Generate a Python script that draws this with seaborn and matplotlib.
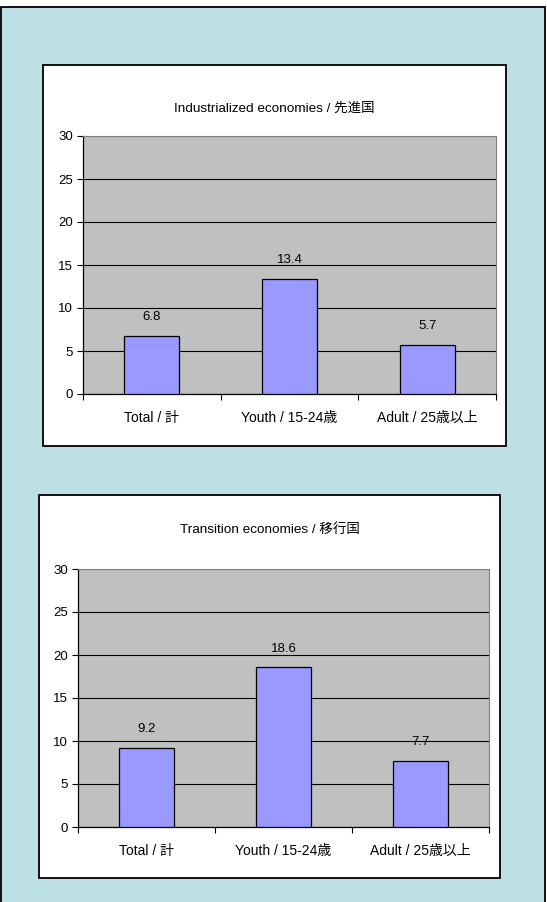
"""
    Taux de chomage par groupe d'age (2 panneaux)
"""

import matplotlib
matplotlib.use('Agg')
import matplotlib.pyplot as plt
import matplotlib.patches as mpatches
from matplotlib.ticker import MultipleLocator, FixedLocator
import seaborn as sns
import pandas as pd

# Donnees
categories = ['Total / 計', 'Youth / 15-24歳', 'Adult / 25歳以上']
industrialized = [6.8, 13.4, 5.7]
transition = [9.2, 18.6, 7.7]
titles = ['Industrialized economies / 先進国', 'Transition economies / 移行国']

FONT = ['Liberation Sans', 'Noto Sans CJK JP', 'DejaVu Sans']
W, H = 547, 902

sns.set_theme(style='white')
plt.rcParams['font.family'] = FONT
plt.rcParams['text.color'] = 'black'
plt.rcParams['xtick.color'] = 'black'
plt.rcParams['ytick.color'] = 'black'


def fx(x):
    return x / W


def fy(y):
    return 1 - y / H


def draw_panel(fig, box, plot_box, title, title_y, values):
    """box et plot_box en pixels: (x0, y0, x1, y1)"""
    x0, y0, x1, y1 = box
    fig.patches.append(mpatches.Rectangle(
        (fx(x0), fy(y1)), fx(x1 - x0), (y1 - y0) / H,
        transform=fig.transFigure, facecolor='white', edgecolor='black',
        linewidth=1.3, zorder=1))

    px0, py0, px1, py1 = plot_box
    ax = fig.add_axes([fx(px0), fy(py1), fx(px1 - px0), (py1 - py0) / H])
    ax.set_zorder(2)

    df = pd.DataFrame({'cat': categories, 'val': values})
    sns.barplot(data=df, x='cat', y='val', color='#9999FF', saturation=1,
                edgecolor='black', linewidth=0.9, width=0.4, ax=ax, zorder=3)

    ax.set_facecolor('#C0C0C0')
    ax.set_ylim(0, 30)
    ax.set_xlim(-0.5, 2.5)
    ax.yaxis.set_major_locator(MultipleLocator(5))
    ax.grid(True, axis='y', color='black', linewidth=0.8)
    ax.set_axisbelow(True)

    for side in ['top', 'right']:
        ax.spines[side].set_color('#808080')
        ax.spines[side].set_linewidth(0.8)
    for side in ['left', 'bottom']:
        ax.spines[side].set_color('black')
        ax.spines[side].set_linewidth(0.9)

    ax.tick_params(axis='y', which='major', direction='out', length=4,
                   width=0.8, color='black', pad=3, labelsize=9.5, left=True)
    ax.tick_params(axis='x', which='major', length=0, pad=12, labelsize=10)
    ax.xaxis.set_minor_locator(FixedLocator([-0.5, 0.5, 1.5, 2.5]))
    ax.tick_params(axis='x', which='minor', direction='out', length=4,
                   width=0.8, color='black', bottom=True)

    ax.set_xlabel('')
    ax.set_ylabel('')

    # valeurs au-dessus des barres
    ax.bar_label(ax.containers[0], labels=['{:.1f}'.format(v) for v in values],
                 padding=9, fontsize=9.5, family=FONT, color='black')

    fig.text(fx((x0 + x1) / 2), fy(title_y), title, ha='center', va='center',
             fontsize=9.7, family=FONT, color='black')
    return ax


fig = plt.figure(figsize=(W / 100, H / 100), dpi=100, facecolor='white')

# fond bleu clair encadre
fig.patches.append(mpatches.Rectangle(
    (fx(1), fy(910)), fx(544), 903 / H, transform=fig.transFigure,
    facecolor='#BCE0E3', edgecolor='black', linewidth=1.3, zorder=0))

draw_panel(fig, (43, 65, 506, 446), (83, 136, 496, 394), titles[0], 109, industrialized)
draw_panel(fig, (39, 495, 500, 878), (78, 569, 489, 827), titles[1], 529, transition)

fig.savefig('out.png', dpi=100, facecolor='white')
